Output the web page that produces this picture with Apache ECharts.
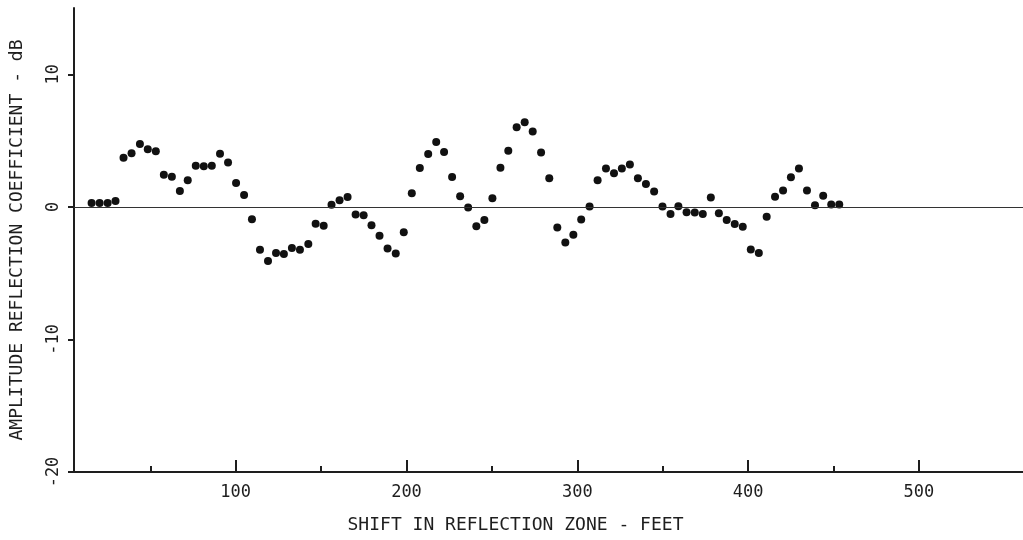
<!DOCTYPE html>
<html>
<head>
<meta charset="utf-8">
<script src="https://cdn.jsdelivr.net/npm/echarts@6/dist/echarts.min.js"></script>
<style>
  html, body { margin: 0; padding: 0; background: #fff; }
  #chart { width: 1023px; height: 540px; }
</style>
</head>
<body>
<div id="chart"></div>
<script>
// shift in reflection zone (feet)
const shiftFeet = [
  15.6, 20.3, 25.0, 29.6, 34.3, 39.0, 43.9, 48.5, 53.2, 57.9, 62.6, 67.3, 71.9, 76.6, 81.3, 86.0, 90.8, 95.5, 100.2,
  104.9, 109.5, 114.2, 118.9, 123.6, 128.2, 132.9, 137.6, 142.5, 146.8, 151.5, 156.1, 160.8, 165.5, 170.2, 174.9, 179.5, 184.2, 188.9,
  193.7, 198.4, 203.1, 207.8, 212.7, 217.4, 222.0, 226.7, 231.4, 236.1, 240.9, 245.6, 250.3, 255.0, 259.6, 264.5, 269.2, 273.9, 278.8,
  283.6, 288.3, 293.0, 297.7, 302.3, 307.2, 311.9, 316.8, 321.5, 326.1, 330.8, 335.5, 340.2, 345.0, 349.9, 354.6, 359.2, 364.0,
  368.8, 373.5, 378.2, 382.9, 387.5, 392.2, 396.9, 401.6, 406.3, 410.9, 415.8, 420.5, 425.1, 429.8, 434.5, 439.2, 444.0, 448.7, 453.4
];
// amplitude reflection coefficient (dB)
const coeffDb = [
  0.3, 0.3, 0.3, 0.45, 3.7, 4.05, 4.75, 4.35, 4.2, 2.43, 2.28, 1.2, 2.0, 3.1, 3.07, 3.1, 4.0, 3.35, 1.8,
  0.9, -0.93, -3.23, -4.09, -3.49, -3.56, -3.11, -3.23, -2.81, -1.28, -1.43, 0.15, 0.5, 0.75, -0.58, -0.63, -1.38, -2.18, -3.14,
  -3.51, -1.91, 1.02, 2.93, 3.98, 4.89, 4.14, 2.26, 0.8, -0.05, -1.46, -1.0, 0.65, 2.95, 4.23, 6.0, 6.39, 5.68, 4.1,
  2.15, -1.56, -2.68, -2.1, -0.95, 0.02, 2.0, 2.9, 2.53, 2.9, 3.2, 2.15, 1.73, 1.15, 0.02, -0.53, 0.05, -0.4,
  -0.43, -0.53, 0.7, -0.48, -1.0, -1.3, -1.5, -3.21, -3.49, -0.75, 0.77, 1.23, 2.23, 2.9, 1.23, 0.12, 0.83, 0.17, 0.17
];
const xMajorTicks = [100, 200, 300, 400, 500];
const xMinorTicks = [50, 150, 250, 350, 450];
const yTicks = [-20, -10, 0, 10];

const ink = '#1e1e1e';
const font = 'DejaVu Sans Mono';

const mychart = echarts.init(document.getElementById('chart'));

const points = shiftFeet.map((x, i) => [x, coeffDb[i]]);

const option = {
  backgroundColor: '#fff',
  animation: false,
  grid: { left: 73, right: 0, top: 8, bottom: 68 },
  xAxis: [
    {
      type: 'value',
      min: 5.3,
      max: 561,
      name: 'SHIFT IN REFLECTION ZONE - FEET',
      nameLocation: 'middle',
      nameGap: 44,
      nameTextStyle: { fontFamily: font, fontSize: 18, color: ink, padding: [0, 66, 0, 0] },
      axisLine: { onZero: false, lineStyle: { color: ink, width: 2 } },
      axisTick: { customValues: xMajorTicks, inside: true, length: 12, lineStyle: { color: ink, width: 2 } },
      axisLabel: { customValues: xMajorTicks, fontFamily: font, fontSize: 17, color: ink, margin: 12 },
      splitLine: { show: false }
    },
    {
      type: 'value',
      min: 5.3,
      max: 561,
      position: 'bottom',
      axisLine: { show: false, onZero: false },
      axisTick: { customValues: xMinorTicks, inside: true, length: 6, lineStyle: { color: ink, width: 2 } },
      axisLabel: { show: false },
      splitLine: { show: false }
    }
  ],
  yAxis: {
    type: 'value',
    min: -20,
    max: 15,
    name: 'AMPLITUDE REFLECTION COEFFICIENT - dB',
    nameLocation: 'middle',
    nameRotate: 90,
    nameGap: 48,
    nameTextStyle: { fontFamily: font, fontSize: 18, color: ink },
    axisLine: { onZero: false, lineStyle: { color: ink, width: 2 } },
    axisTick: { customValues: yTicks, length: 6, lineStyle: { color: ink, width: 2 } },
    axisLabel: { customValues: yTicks, rotate: 90, fontFamily: font, fontSize: 17, color: ink, margin: 12 },
    splitLine: { show: false }
  },
  series: [{
    type: 'scatter',
    xAxisIndex: 0,
    data: points,
    symbol: 'circle',
    symbolSize: 8,
    itemStyle: { color: '#111', opacity: 1 },
    markLine: {
      silent: true,
      symbol: 'none',
      label: { show: false },
      lineStyle: { color: '#333', width: 1.2, type: 'solid' },
      data: [{ yAxis: 0 }]
    }
  }]
};

mychart.setOption(option);
window.onresize = mychart.resize;
</script>
</body>
</html>
